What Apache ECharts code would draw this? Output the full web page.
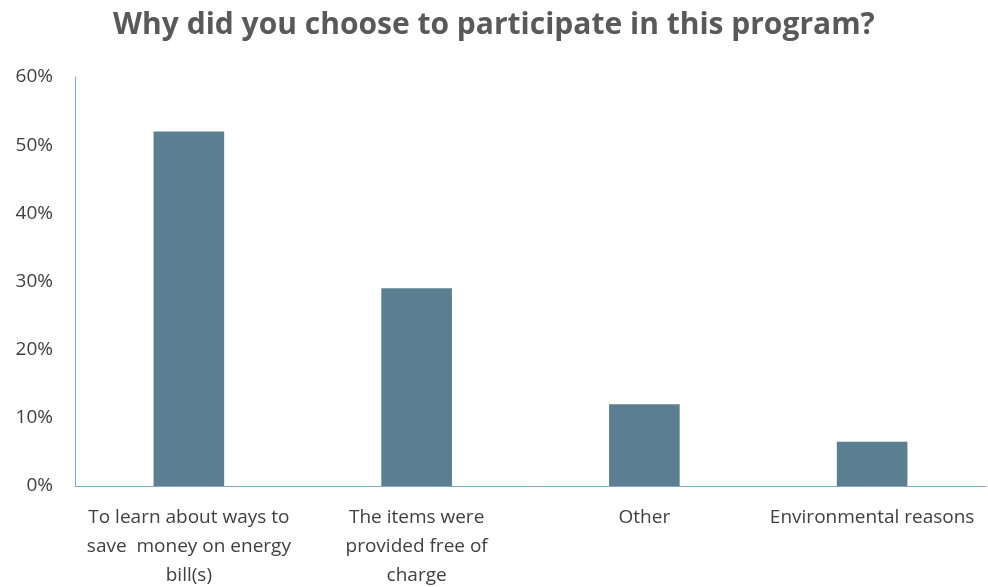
<!DOCTYPE html>
<html>
<head>
<meta charset="utf-8">
<script src="https://cdn.jsdelivr.net/npm/echarts@6/dist/echarts.min.js"></script>
<style>
  html, body { margin: 0; padding: 0; background: #fff; }
  #chart { width: 988px; height: 587px; }
</style>
</head>
<body>
<div id="chart"></div>
<script>
var categories = [
    'To learn about ways to\nsave  money on energy\nbill(s)',
    'The items were\nprovided free of\ncharge',
    'Other',
    'Environmental reasons'
];
var values = [52, 29, 12, 6.5];
var yTicks = [0, 10, 20, 30, 40, 50, 60];

var myChart = echarts.init(document.getElementById('chart'));
var option = {
    backgroundColor: '#fff',
    title: {
        text: 'Why did you choose to participate in this program?',
        left: 'center',
        top: 5,
        textStyle: {
            fontFamily: 'Open Sans',
            fontSize: 30,
            fontWeight: 'bold',
            color: '#595959'
        }
    },
    grid: {
        left: 75,
        right: 2,
        top: 77,
        bottom: 101,
        outerBoundsMode: 'none'
    },
    xAxis: [
        {
            type: 'category',
            data: categories,
            axisLine: { lineStyle: { color: '#7ea6d6', width: 1 } },
            axisTick: { show: false },
            axisLabel: {
                interval: 0,
                margin: 17,
                fontFamily: 'Open Sans',
                fontSize: 19,
                lineHeight: 29,
                color: '#404040'
            }
        }
    ],
    yAxis: [
        {
            type: 'value',
            min: yTicks[0],
            max: yTicks[yTicks.length - 1],
            interval: 10,
            axisLine: { show: true, lineStyle: { color: '#7ea6d6', width: 1 } },
            axisTick: { show: false },
            splitLine: { show: false },
            axisLabel: {
                formatter: '{value}%',
                margin: 22,
                fontFamily: 'Open Sans',
                fontSize: 19,
                color: '#404040'
            }
        }
    ],
    series: [
        {
            type: 'bar',
            barWidth: '31%',
            data: values,
            itemStyle: { color: '#5b7e91' }
        }
    ]
};
myChart.setOption(option, true);
</script>
</body>
</html>
